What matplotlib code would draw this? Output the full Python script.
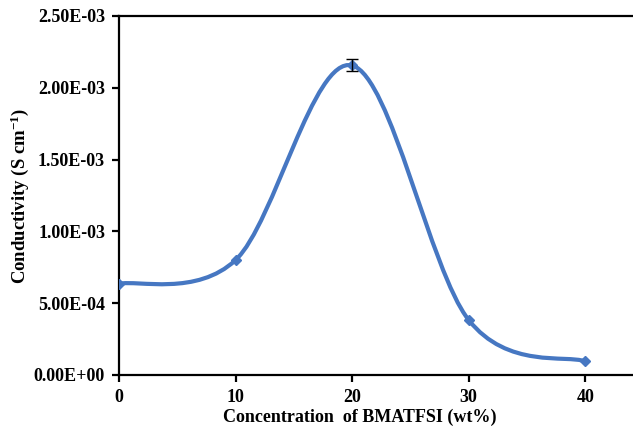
import matplotlib
matplotlib.use("Agg")
import matplotlib.pyplot as plt
from matplotlib.path import Path
from matplotlib.patches import PathPatch
from matplotlib.ticker import FormatStrFormatter

# data
concentration = [0, 10, 20, 30, 40]
conductivity = [6.35e-4, 8.0e-4, 2.155e-3, 3.83e-4, 9.5e-5]
errors = [0, 0, 4.2e-5, 0, 0]
y_ticks = [0, 5e-4, 1e-3, 1.5e-3, 2e-3, 2.5e-3]
x_ticks = [0, 10, 20, 30, 40]

plt.rcParams['font.family'] = ['Liberation Serif', 'DejaVu Serif']
plt.rcParams['font.weight'] = 'bold'
plt.rcParams['mathtext.fontset'] = 'custom'
plt.rcParams['mathtext.bf'] = 'Liberation Serif:bold'
plt.rcParams['mathtext.rm'] = 'Liberation Serif:bold'
plt.rcParams['mathtext.default'] = 'bf'

blue = "#4677c2"

fig = plt.figure(figsize=(6.33, 4.30), dpi=100)
ax = fig.add_axes([0.188, 0.128, 0.812, 0.835])


def smooth_path(xs, ys):
    # excel-like smoothed line: cubic bezier with catmull-rom style handles
    pts = list(zip(xs, ys))
    n = len(pts)
    verts = [pts[0]]
    codes = [Path.MOVETO]
    for i in range(n - 1):
        p0 = pts[i - 1] if i > 0 else pts[i]
        p1 = pts[i]
        p2 = pts[i + 1]
        p3 = pts[i + 2] if i + 2 < n else pts[i + 1]
        c1 = (p1[0] + (p2[0] - p0[0]) / 6, p1[1] + (p2[1] - p0[1]) / 6)
        c2 = (p2[0] - (p3[0] - p1[0]) / 6, p2[1] - (p3[1] - p1[1]) / 6)
        verts += [c1, c2, p2]
        codes += [Path.CURVE4] * 3
    return Path(verts, codes)


patch = PathPatch(smooth_path(concentration, conductivity), facecolor="none",
                  edgecolor=blue, lw=3.0, transform=ax.transData,
                  capstyle="round", joinstyle="round", zorder=2)
ax.add_patch(patch)
ax.plot(concentration, conductivity, linestyle="none", marker="D",
        markersize=5, color=blue, zorder=3)

# only the 20 wt% point has a visible error bar
eb_x = [x for x, e in zip(concentration, errors) if e > 0]
eb_y = [y for y, e in zip(conductivity, errors) if e > 0]
eb_e = [e for e in errors if e > 0]
ax.errorbar(eb_x, eb_y, yerr=eb_e, fmt="none",
            ecolor="black", elinewidth=1.0, capsize=4, capthick=1.0, zorder=4)

ax.set_xlim(0, 44.1)
ax.set_ylim(0, 2.5e-3)
ax.set_xticks(x_ticks)
ax.set_yticks(y_ticks)
ax.yaxis.set_major_formatter(FormatStrFormatter("%.2E"))

for side in ["left", "bottom", "top"]:
    ax.spines[side].set_linewidth(1.6)
ax.spines["right"].set_visible(False)
ax.tick_params(direction="out", length=5, width=1.6, labelsize=13, pad=5)

ax.set_xlabel("Concentration  of BMATFSI (wt%)", fontsize=13, fontweight="bold")
ax.xaxis.set_label_coords(0.469, -0.095)
ax.set_ylabel(r"Conductivity (S cm$^{-1}$)", fontsize=13.5, fontweight="bold")
ax.yaxis.set_label_coords(-0.172, 0.5)

fig.savefig("out.png", dpi=100)
